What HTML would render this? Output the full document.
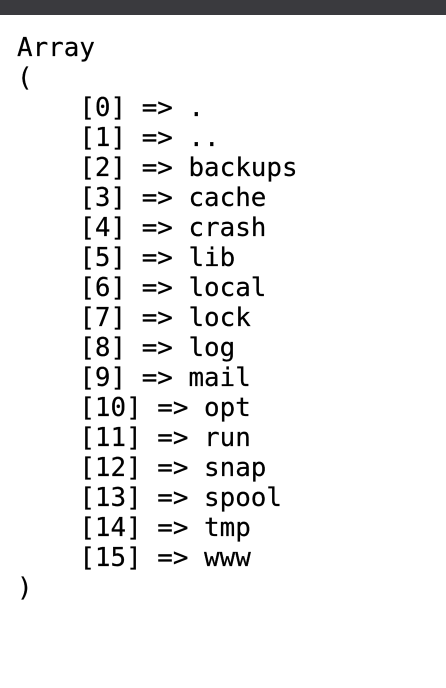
<!DOCTYPE html>
<html><head><style>
html,body{margin:0;padding:0;background:#fff;width:446px;height:688px;overflow:hidden}
.bar{position:absolute;left:0;top:0;width:446px;height:15px;background:#3a3a3e}
pre{position:absolute;left:17px;top:33px;margin:0;font-family:"DejaVu Sans Mono","Liberation Mono",monospace;font-size:25.9px;line-height:30px;color:#000;-webkit-text-stroke:0.2px #000}
</style></head><body>
<div class="bar"></div>
<pre>Array
(
    [0] =&gt; .
    [1] =&gt; ..
    [2] =&gt; backups
    [3] =&gt; cache
    [4] =&gt; crash
    [5] =&gt; lib
    [6] =&gt; local
    [7] =&gt; lock
    [8] =&gt; log
    [9] =&gt; mail
    [10] =&gt; opt
    [11] =&gt; run
    [12] =&gt; snap
    [13] =&gt; spool
    [14] =&gt; tmp
    [15] =&gt; www
)</pre>
</body></html>
